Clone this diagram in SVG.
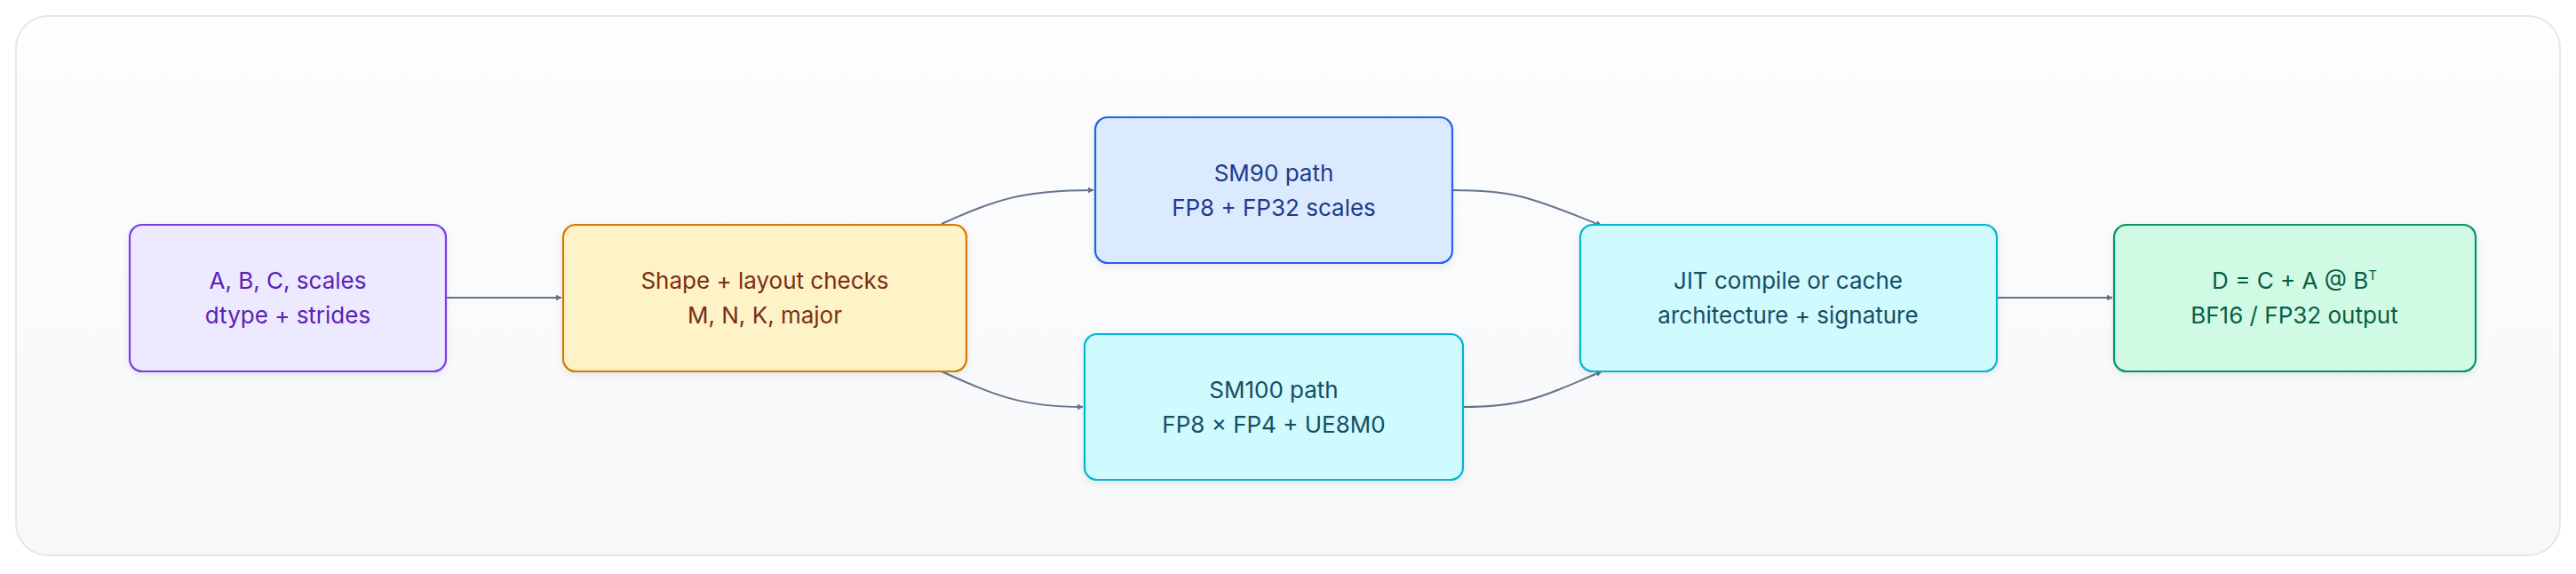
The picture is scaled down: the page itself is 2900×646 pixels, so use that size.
<svg xmlns="http://www.w3.org/2000/svg" width="2900" height="646" viewBox="0 0 2900 646">
<defs>
<linearGradient id="bg" x1="0" y1="0" x2="0" y2="1"><stop offset="0" stop-color="#fdfdfe"/><stop offset="1" stop-color="#f7f8fa"/></linearGradient>
<filter id="sh" x="-10%" y="-10%" width="120%" height="130%"><feDropShadow dx="0" dy="3" stdDeviation="4" flood-color="#0f172a" flood-opacity="0.08"/></filter>
<marker id="ah" viewBox="0 0 10 10" refX="9" refY="5" markerWidth="7" markerHeight="7" markerUnits="userSpaceOnUse" orient="auto"><path d="M0,0 L10,5 L0,10 z" fill="#64748b"/></marker>
<style>
.n{stroke-width:2.2;filter:url(#sh)}
.t{font-family:Inter,"Noto Sans",sans-serif;font-size:26px;text-anchor:middle}
.c{fill:none;stroke:#64748b;stroke-width:2;marker-end:url(#ah)}
</style>
</defs>
<rect x="18" y="18" width="2864" height="607" rx="36" fill="url(#bg)" stroke="#e5e7eb" stroke-width="2"/>
<g id="connectors">
<path class="c" d="M502,335 L632,335"/>
<path class="c" d="M1060,252 C1120,225 1150,214 1231,214"/>
<path class="c" d="M1060,418 C1120,445 1150,458 1219,458"/>
<path class="c" d="M1635,214 C1700,214 1720,220 1803,254"/>
<path class="c" d="M1647,458 C1710,458 1730,450 1803,418"/>
<path class="c" d="M2248,335 L2378,335"/>
</g>
<g id="inputs"><rect class="n" x="146" y="253" width="356" height="165" rx="14" fill="#ede9fe" stroke="#7c3aed"/>
<text class="t" fill="#5b21b6" x="324" y="325">A, B, C, scales</text><text class="t" fill="#5b21b6" x="324" y="364">dtype + strides</text></g>
<g id="checks"><rect class="n" x="634" y="253" width="454" height="165" rx="14" fill="#fef3c7" stroke="#d97706"/>
<text class="t" fill="#7c2d12" x="861" y="325">Shape + layout checks</text><text class="t" fill="#7c2d12" x="861" y="364">M, N, K, major</text></g>
<g id="sm90"><rect class="n" x="1233" y="132" width="402" height="164" rx="14" fill="#dbeafe" stroke="#2563eb"/>
<text class="t" fill="#1e3a8a" x="1434" y="204">SM90 path</text><text class="t" fill="#1e3a8a" x="1434" y="243">FP8 + FP32 scales</text></g>
<g id="sm100"><rect class="n" x="1221" y="376" width="426" height="164" rx="14" fill="#cffafe" stroke="#06b6d4"/>
<text class="t" fill="#164e63" x="1434" y="448">SM100 path</text><text class="t" fill="#164e63" x="1434" y="487">FP8 × FP4 + UE8M0</text></g>
<g id="jit"><rect class="n" x="1779" y="253" width="469" height="165" rx="14" fill="#cffafe" stroke="#06b6d4"/>
<text class="t" fill="#164e63" x="2013" y="325">JIT compile or cache</text><text class="t" fill="#164e63" x="2013" y="364">architecture + signature</text></g>
<g id="output"><rect class="n" x="2380" y="253" width="407" height="165" rx="14" fill="#d1fae5" stroke="#059669"/>
<text class="t" fill="#065f46" x="2583" y="325">D = C + A @ B<tspan font-size="15" dy="-10">T</tspan></text><text class="t" fill="#065f46" x="2583" y="364">BF16 / FP32 output</text></g>
</svg>
